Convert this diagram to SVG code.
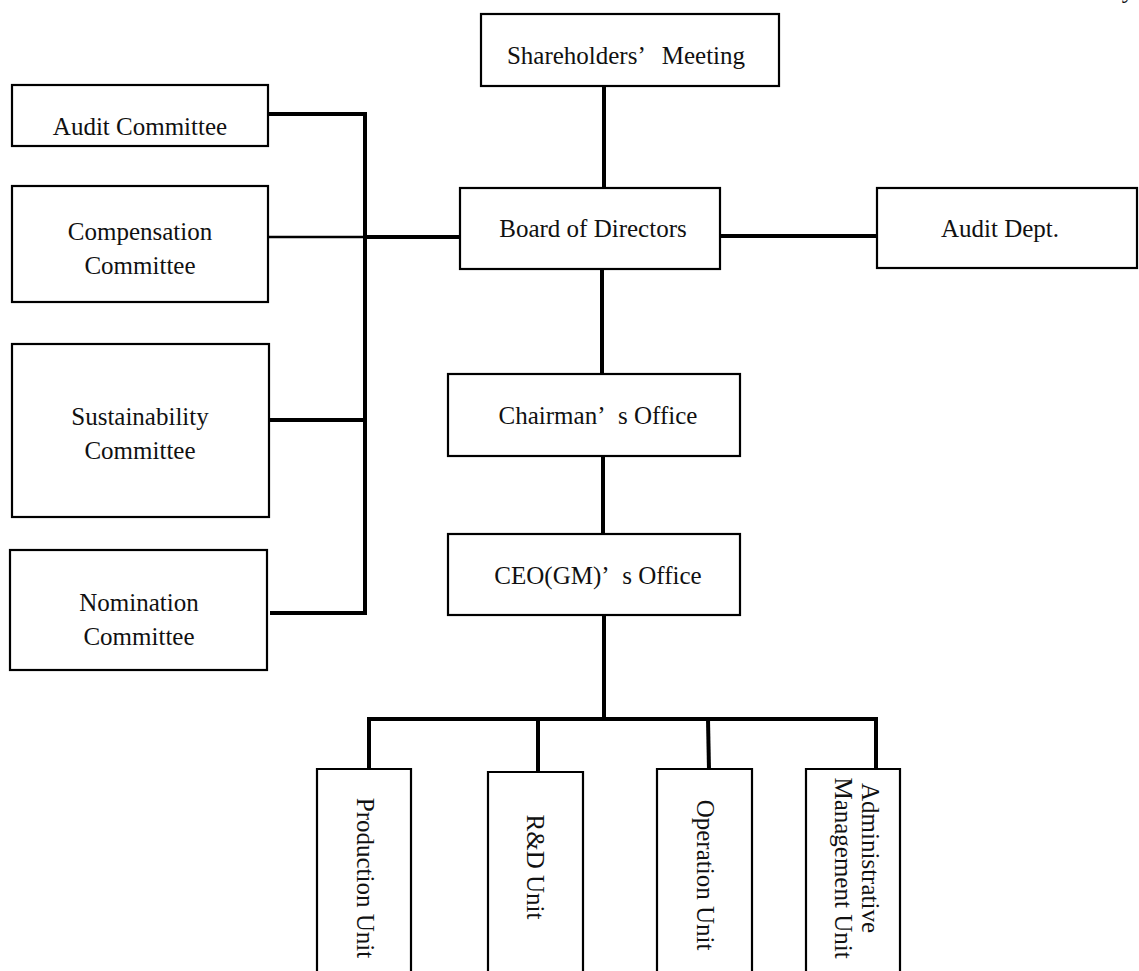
<svg xmlns="http://www.w3.org/2000/svg" width="1139" height="971" viewBox="0 0 1139 971">
<style>
.box{fill:#fff;stroke:#000;stroke-width:2.2}
.t{font-family:"Liberation Serif","Times New Roman",serif;font-size:25px;fill:#111;text-anchor:middle}
.c{stroke:#000;stroke-width:4;fill:none}
.c2{stroke:#000;stroke-width:2.5;fill:none}
</style>
<rect width="1139" height="971" fill="#fff"/>
<text class="t" x="1128" y="-2">y</text>
<g id="connectors">
<line class="c" x1="604" y1="86" x2="604" y2="188"/>
<line class="c" x1="720" y1="236" x2="877" y2="236"/>
<line class="c" x1="602" y1="269" x2="602" y2="373"/>
<line class="c" x1="603" y1="457" x2="603" y2="534"/>
<line class="c" x1="604" y1="615" x2="604" y2="719"/>
<polyline class="c" points="268,114 365,114 365,613 270,613"/>
<line class="c2" x1="268" y1="237" x2="365" y2="237"/>
<line class="c" x1="365" y1="237" x2="460" y2="237"/>
<line class="c" x1="269" y1="420" x2="365" y2="420"/>
<line class="c" x1="367" y1="719" x2="878" y2="719"/>
<line class="c" x1="369" y1="719" x2="369" y2="769"/>
<line class="c" x1="538" y1="719" x2="538" y2="772"/>
<line class="c" x1="708" y1="719" x2="709" y2="770"/>
<line class="c" x1="876" y1="719" x2="876" y2="769"/>
</g>
<g id="shareholders"><rect class="box" x="481" y="14" width="298" height="72"/><text class="t" x="626" y="64">Shareholders’<tspan dx="16">Meeting</tspan></text></g>
<g id="board"><rect class="box" x="460" y="188" width="260" height="81"/><text class="t" x="593" y="237">Board of Directors</text></g>
<g id="audit-dept"><rect class="box" x="877" y="188" width="260" height="80"/><text class="t" x="1000" y="237">Audit Dept.</text></g>
<g id="chairman"><rect class="box" x="448" y="374" width="292" height="82"/><text class="t" x="598" y="424">Chairman’<tspan dx="14">s Office</tspan></text></g>
<g id="ceo"><rect class="box" x="448" y="534" width="292" height="81"/><text class="t" x="598" y="584">CEO(GM)’<tspan dx="14">s Office</tspan></text></g>
<g id="audit-committee"><rect class="box" x="12" y="85" width="256" height="61"/><text class="t" x="140" y="135">Audit Committee</text></g>
<g id="compensation-committee"><rect class="box" x="12" y="186" width="256" height="116"/><text class="t" x="140" y="240">Compensation</text><text class="t" x="140" y="274">Committee</text></g>
<g id="sustainability-committee"><rect class="box" x="12" y="344" width="257" height="173"/><text class="t" x="140" y="425">Sustainability</text><text class="t" x="140" y="459">Committee</text></g>
<g id="nomination-committee"><rect class="box" x="10" y="550" width="257" height="120"/><text class="t" x="139" y="611">Nomination</text><text class="t" x="139" y="645">Committee</text></g>
<g id="production-unit"><path class="box" d="M317,975 V769 H411 V975"/><text class="t" transform="translate(357,878) rotate(90)">Production Unit</text></g>
<g id="rd-unit"><path class="box" d="M488,975 V772 H583 V975"/><text class="t" transform="translate(527,867) rotate(90)">R&amp;D Unit</text></g>
<g id="operation-unit"><path class="box" d="M657,975 V769 H752 V975"/><text class="t" transform="translate(697,875) rotate(90)">Operation Unit</text></g>
<g id="admin-unit"><path class="box" d="M806,975 V769 H900 V975"/><text class="t" transform="translate(862,858) rotate(90)">Administrative</text><text class="t" transform="translate(835,868) rotate(90)">Management Unit</text></g>
</svg>
